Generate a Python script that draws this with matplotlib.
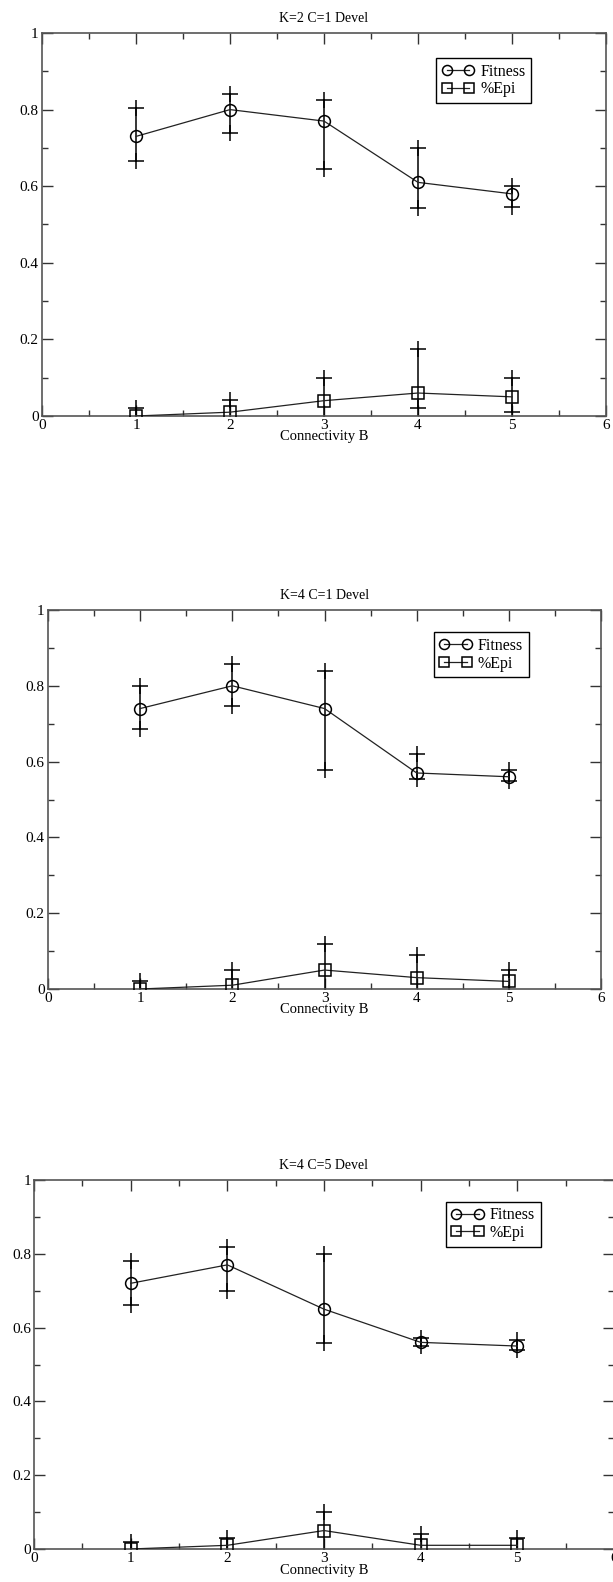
import matplotlib
matplotlib.use("Agg")
import matplotlib.pyplot as plt
from matplotlib.ticker import MultipleLocator

# valeurs
connectivity = [1, 2, 3, 4, 5]
titles = ["K=2 C=1 Devel", "K=4 C=1 Devel", "K=4 C=5 Devel"]

# K=2 C=1
fit_a = [0.73, 0.80, 0.77, 0.61, 0.58]
fit_a_lo = [0.667, 0.738, 0.646, 0.544, 0.545]
fit_a_hi = [0.805, 0.84, 0.826, 0.70, 0.60]
epi_a = [0.0, 0.01, 0.04, 0.06, 0.05]
epi_a_lo = [-0.02, -0.02, -0.02, 0.02, 0.01]
epi_a_hi = [0.02, 0.042, 0.10, 0.175, 0.10]

# K=4 C=1
fit_b = [0.74, 0.80, 0.74, 0.57, 0.56]
fit_b_lo = [0.687, 0.748, 0.578, 0.553, 0.55]
fit_b_hi = [0.80, 0.858, 0.84, 0.62, 0.578]
epi_b = [0.0, 0.01, 0.05, 0.03, 0.02]
epi_b_lo = [-0.02, -0.03, -0.02, -0.03, -0.01]
epi_b_hi = [0.02, 0.05, 0.12, 0.09, 0.05]

# K=4 C=5
fit_c = [0.72, 0.77, 0.65, 0.56, 0.55]
fit_c_lo = [0.66, 0.70, 0.557, 0.55, 0.538]
fit_c_hi = [0.78, 0.818, 0.80, 0.572, 0.567]
epi_c = [0.0, 0.01, 0.05, 0.01, 0.01]
epi_c_lo = [-0.02, -0.01, -0.02, -0.02, -0.01]
epi_c_hi = [0.018, 0.03, 0.10, 0.04, 0.03]

panels = [
    (fit_a, fit_a_lo, fit_a_hi, epi_a, epi_a_lo, epi_a_hi),
    (fit_b, fit_b_lo, fit_b_hi, epi_b, epi_b_lo, epi_b_hi),
    (fit_c, fit_c_lo, fit_c_hi, epi_c, epi_c_lo, epi_c_hi),
]

# position des axes (pixels: gauche, haut, droite, bas), légende, marge du label x
boxes = [(42, 33, 606, 416), (48, 610, 601, 989), (34, 1180, 614, 1549)]
legend_pos = [(0.699, 0.934), (0.698, 0.941), (0.710, 0.941)]
xlab_pad = [-2, -2, -0.5]
tick_pad = [2.5, 2.5, 2]

plt.rcParams["font.family"] = ["Liberation Serif", "DejaVu Serif"]
plt.rcParams["font.size"] = 10

W, H = 613, 1582
fig = plt.figure(figsize=(W / 100, H / 100), dpi=100)

for i in range(3):
    fit, fit_lo, fit_hi, epi, epi_lo, epi_hi = panels[i]
    l, t, r, b = boxes[i]
    ax = fig.add_axes([l / W, 1 - b / H, (r - l) / W, (b - t) / H])

    for mean, lo, hi in [(fit, fit_lo, fit_hi), (epi, epi_lo, epi_hi)]:
        err = [[m - a for m, a in zip(mean, lo)], [c - m for m, c in zip(mean, hi)]]
        ax.errorbar(connectivity, mean, yerr=err, fmt="none", ecolor="black",
                    elinewidth=1.1, capsize=0, zorder=2)
        ax.plot(connectivity, lo, "+", color="black", ms=12, mew=1.1, zorder=2)
        ax.plot(connectivity, hi, "+", color="black", ms=12, mew=1.1, zorder=2)

    ax.plot(connectivity, fit, "-o", color="#222222", lw=0.9, ms=8.5,
            mfc="none", mec="black", mew=1.1, label="Fitness", zorder=3)
    ax.plot(connectivity, epi, "-s", color="#222222", lw=0.9, ms=8.5,
            mfc="none", mec="black", mew=1.1, label="%Epi", zorder=3)

    ax.set_xlim(0, 6)
    ax.set_ylim(0, 1)
    ax.xaxis.set_major_locator(MultipleLocator(1))
    ax.xaxis.set_minor_locator(MultipleLocator(0.5))
    ax.yaxis.set_major_locator(MultipleLocator(0.2))
    ax.yaxis.set_minor_locator(MultipleLocator(0.1))
    ax.set_yticks([0, 0.2, 0.4, 0.6, 0.8, 1])
    ax.set_yticklabels(["0", "0.2", "0.4", "0.6", "0.8", "1"])
    ax.tick_params(which="both", direction="in", top=True, right=True,
                   width=1.0, color="#333333", labelsize=11)
    ax.tick_params(which="major", length=8, pad=tick_pad[i])
    ax.tick_params(which="minor", length=4)
    for s in ax.spines.values():
        s.set_color("#555555")
        s.set_linewidth(1.2)

    ax.set_title(titles[i], fontsize=10, pad=8)
    ax.set_xlabel("Connectivity B", fontsize=10.5, labelpad=xlab_pad[i])

    leg = ax.legend(loc="upper left", bbox_to_anchor=legend_pos[i], borderaxespad=0,
                    fancybox=False, framealpha=1, edgecolor="black", numpoints=2,
                    handlelength=2.0, handletextpad=0.4, labelspacing=0.1,
                    borderpad=0.35, markerscale=0.85, fontsize=11.5)
    leg.get_frame().set_linewidth(1.0)

fig.savefig("out.png", dpi=100)
